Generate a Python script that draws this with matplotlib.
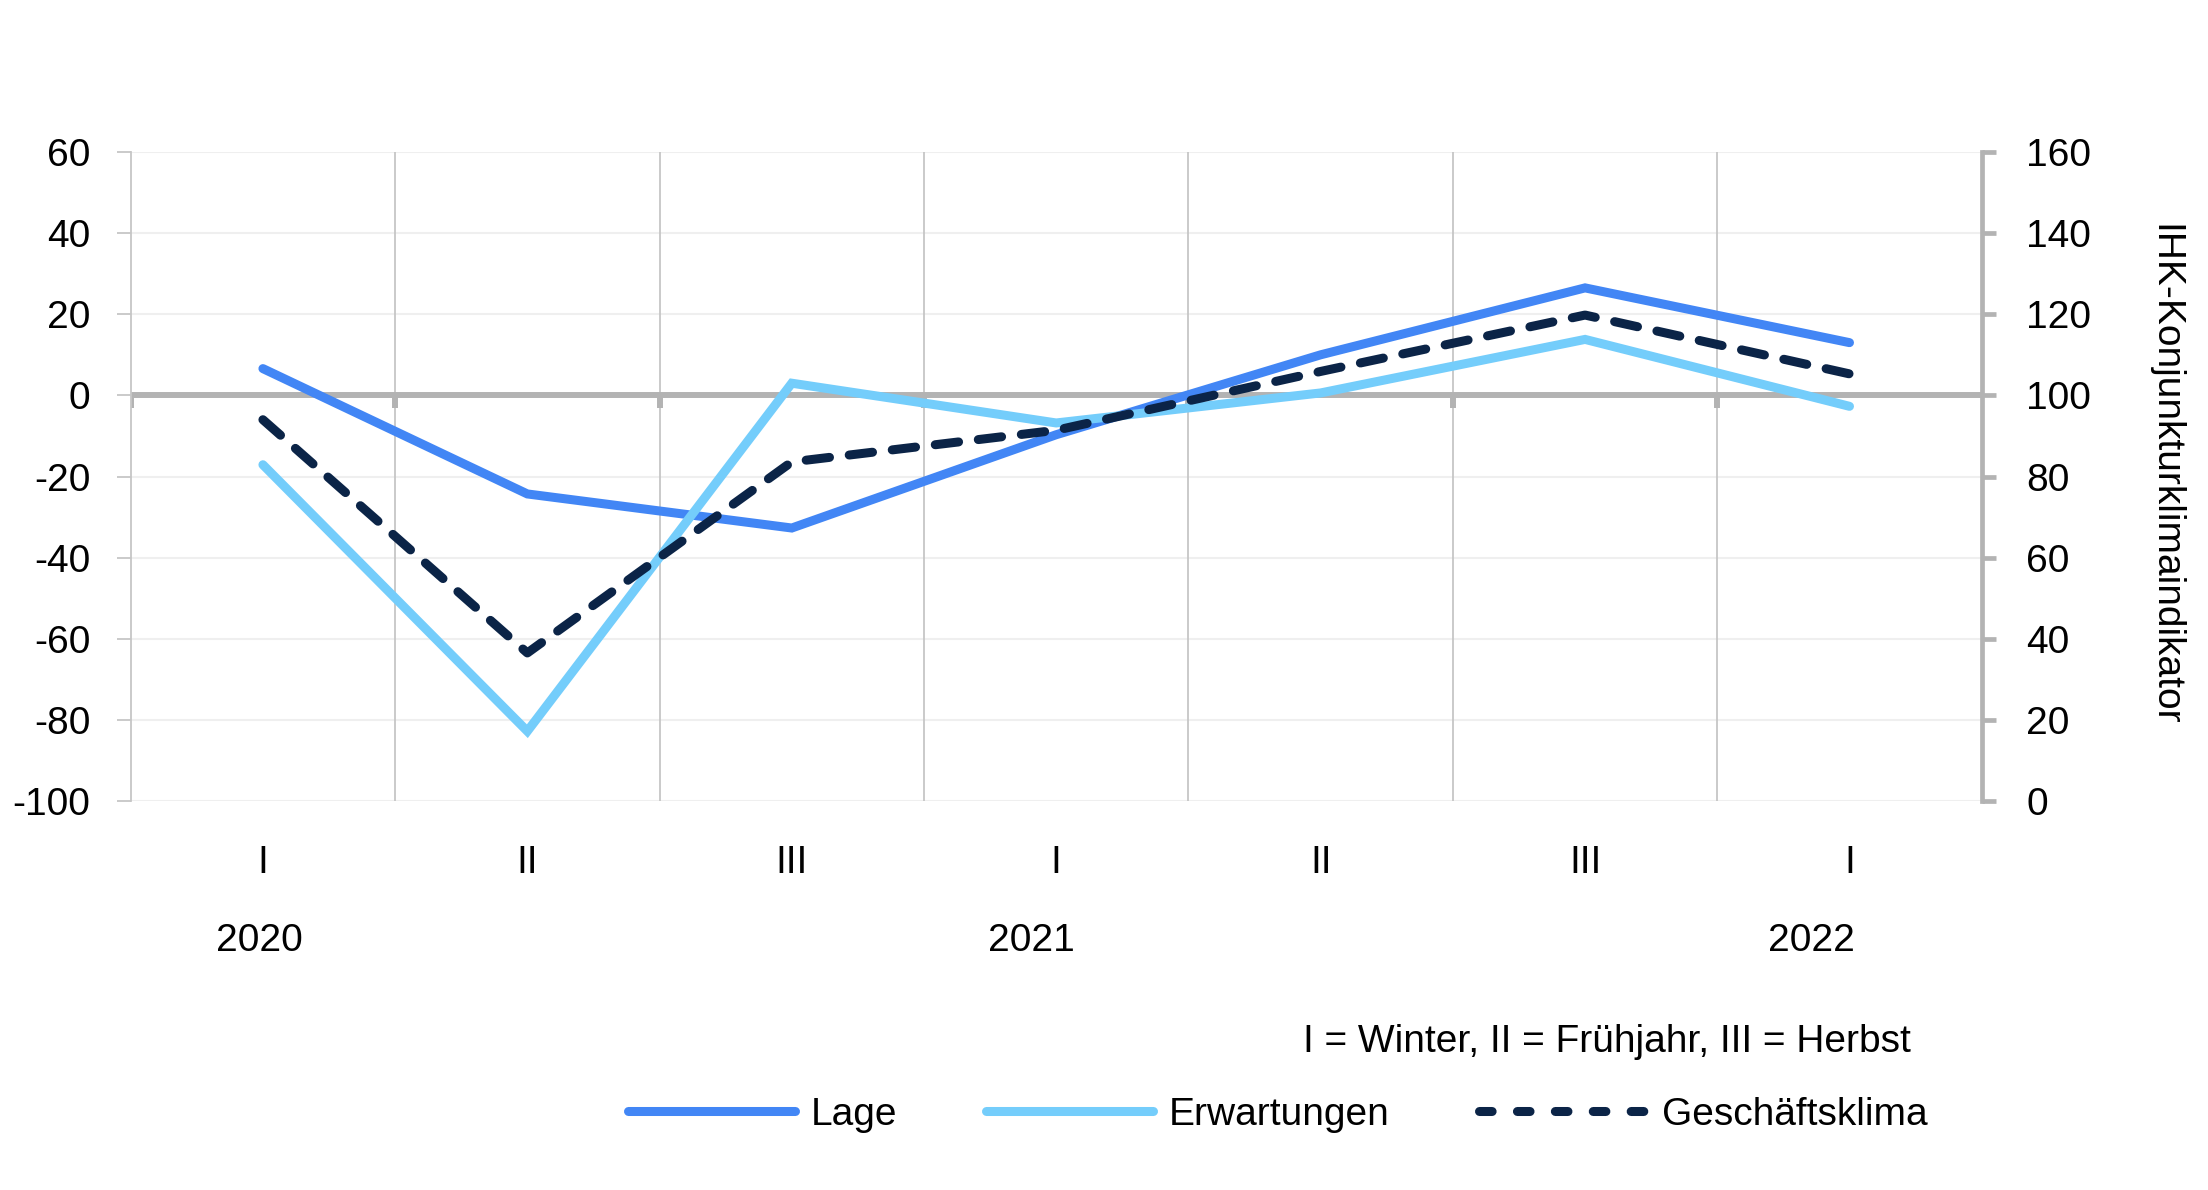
import matplotlib.pyplot as plt
import matplotlib.transforms as mtransforms
from matplotlib.lines import Line2D
import numpy as np

plt.rcParams['font.family'] = ['Liberation Sans', 'DejaVu Sans']
plt.rcParams['axes.unicode_minus'] = False
FS = 28

quartale = ['I', 'II', 'III', 'I', 'II', 'III', 'I']
jahre = ['2020', '2021', '2022']
jahr_pos = [0.485, 3.408, 6.356]
lage = [6.6, -24.3, -32.7, -9.7, 10.0, 26.5, 13.0]
erwartungen = [-17.1, -82.8, 3.0, -6.8, 0.6, 13.8, -2.7]
klima = [94.0, 36.5, 83.6, 91.4, 105.9, 119.8, 105.3]

c_lage = '#4286f5'
c_erw = '#74cdfb'
c_klima = '#0b2447'
grau = '#b3b3b3'
LW = 6.5

fig = plt.figure(figsize=(22.08, 11.9), dpi=100)
ax = fig.add_axes([130.7 / 2208, 1 - 801 / 1190, 1851 / 2208, 649 / 1190])
x = np.arange(len(quartale)) + 0.5

ax.set_xlim(0, 7)
ax.set_ylim(-100, 60)
ax.set_yticks(np.arange(-100, 61, 20))
for yv in np.arange(-100, 61, 20):
    if yv != 0:
        ax.axhline(yv, color='#efefef', lw=1.5, zorder=0)
for xv in range(1, 7):
    ax.axvline(xv, color='#c6c6c6', lw=1.3, zorder=0)

# Nulllinie mit kleinen Strichen nach unten
ax.axhline(0, color=grau, lw=4.3, zorder=1)
for xv in range(0, 7):
    ax.plot([xv, xv], [0, -3], color=grau, lw=4.3, zorder=1, solid_capstyle='butt')

ax.plot(x, lage, color=c_lage, lw=LW, solid_capstyle='round', solid_joinstyle='miter', zorder=3)
ax.plot(x, erwartungen, color=c_erw, lw=LW, solid_capstyle='round', solid_joinstyle='miter', zorder=3)

for s in ['top', 'right', 'bottom']:
    ax.spines[s].set_visible(False)
ax.spines['left'].set_color('#c6c6c6')
ax.spines['left'].set_linewidth(1.3)
ax.tick_params(axis='y', length=10, width=1.3, color='#c6c6c6', pad=19, labelsize=FS)
ax.set_xticks(x)
ax.set_xticklabels(quartale)
ax.tick_params(axis='x', length=0, pad=32, labelsize=FS)

trans = mtransforms.blended_transform_factory(ax.transData, ax.transAxes)
for j, p in zip(jahre, jahr_pos):
    ax.text(p, -(941 - 801) / 649, j, transform=trans, ha='center', va='center', fontsize=FS)

ax2 = ax.twinx()
ax2.set_ylim(0, 160)
ax2.set_yticks(np.arange(0, 161, 20))
(l3,) = ax2.plot(x, klima, color=c_klima, lw=LW, dash_capstyle='round', zorder=4)
l3.set_dashes((2.6, 2.2))
for s in ['top', 'left', 'bottom']:
    ax2.spines[s].set_visible(False)
ax2.spines['right'].set_color(grau)
ax2.spines['right'].set_linewidth(3.4)
ax2.tick_params(axis='y', length=10, width=3.4, color=grau, pad=22, labelsize=FS)

fig.text(2164 / 2208, 1 - 475 / 1190, 'IHK-Konjunkturklimaindikator', rotation=270,
         ha='center', va='center', fontsize=FS)
fig.text(1911 / 2208, 1 - 1042 / 1190, 'I = Winter, II = Frühjahr, III = Herbst',
         ha='right', va='center', fontsize=FS)

handles = [
    Line2D([], [], color=c_lage, lw=LW, solid_capstyle='round'),
    Line2D([], [], color=c_erw, lw=LW, solid_capstyle='round'),
    Line2D([], [], color=c_klima, lw=LW, dash_capstyle='round', dashes=(1.4, 2.8)),
]
fig.legend(handles, ['Lage', 'Erwartungen', 'Geschäftsklima'], loc='center',
           bbox_to_anchor=(0.5786, 1 - 1115 / 1190), ncol=3, frameon=False, fontsize=FS,
           handlelength=4.3, handletextpad=0.4, columnspacing=2.3)

fig.savefig('out.png', dpi=100)
